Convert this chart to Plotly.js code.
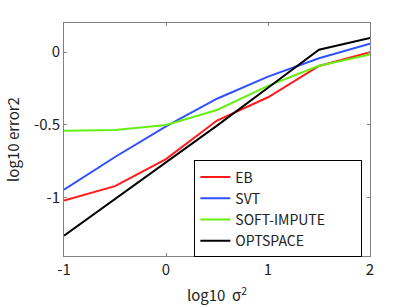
<!DOCTYPE html>
<html>
<head>
<meta charset="utf-8">
<script src="https://cdn.plot.ly/plotly-3.0.1.min.js"></script>
<style>html,body{margin:0;padding:0;background:#fff;}#chart{width:409px;height:308px;}</style>
</head>
<body>
<div id="chart"></div>
<script>
var logSigma2 = [-1, -0.5, 0, 0.5, 1, 1.5, 2];
var ebValues = [-1.02, -0.92, -0.735, -0.47, -0.31, -0.095, 0.0];
var svtValues = [-0.945, -0.72, -0.51, -0.32, -0.168, -0.042, 0.057];
var softImputeValues = [-0.54, -0.535, -0.5, -0.397, -0.232, -0.094, -0.016];
var optspaceValues = [-1.26, -1.01, -0.755, -0.505, -0.245, 0.016, 0.098];
var seriesNames = ['EB', 'SVT', 'SOFT-IMPUTE', 'OPTSPACE'];
var xTicks = [-1, 0, 1, 2];
var yTicks = [-1, -0.5, 0];

var colors = ['#ff1a1a', '#3050ff', '#66ee11', '#000000'];
var allValues = [ebValues, svtValues, softImputeValues, optspaceValues];
var FONT = '"Noto Sans CJK JP", "Noto Sans", sans-serif';
var PAD = '\u00a0\u00a0\u00a0\u00a0\u00a0\u00a0\u00a0\u00a0\u00a0\u00a0';

var traces = allValues.map(function (vals, i) {
  return {
    x: logSigma2, y: vals, type: 'scatter', mode: 'lines',
    name: seriesNames[i] + (i === 2 ? PAD : ''),
    line: {color: colors[i], width: 2}
  };
});

var axisCommon = {
  showgrid: false, zeroline: false, showline: true, linecolor: '#808080', linewidth: 1,
  mirror: 'ticks', ticks: 'inside', ticklen: 3, tickcolor: '#808080',
  tickfont: {family: FONT, size: 15, color: '#222'}
};

var layout = {
  width: 409, height: 308,
  margin: {l: 64, r: 39, t: 23, b: 52},
  paper_bgcolor: '#fff', plot_bgcolor: '#fff',
  font: {family: FONT, size: 15, color: '#222'},
  xaxis: Object.assign({}, axisCommon, {
    range: [-1, 2], tickvals: xTicks, ticktext: xTicks.map(String),
    title: {text: 'log10  σ<sup>2</sup>', font: {family: FONT, size: 15, color: '#222'}, standoff: 12}
  }),
  yaxis: Object.assign({}, axisCommon, {
    range: [-1.4, 0.2], tickvals: yTicks, ticktext: yTicks.map(String),
    title: {text: 'log10 error2', font: {family: FONT, size: 15, color: '#222'}, standoff: 10}
  }),
  showlegend: true,
  legend: {
    x: 0.426, y: 0.41, xanchor: 'left', yanchor: 'top',
    bgcolor: '#fff', bordercolor: '#000', borderwidth: 1,
    font: {family: FONT, size: 14, color: '#222'},
    itemwidth: 30, tracegroupgap: 0
  }
};

Plotly.newPlot('chart', traces, layout, {displayModeBar: false, staticPlot: true});
</script>
</body>
</html>
